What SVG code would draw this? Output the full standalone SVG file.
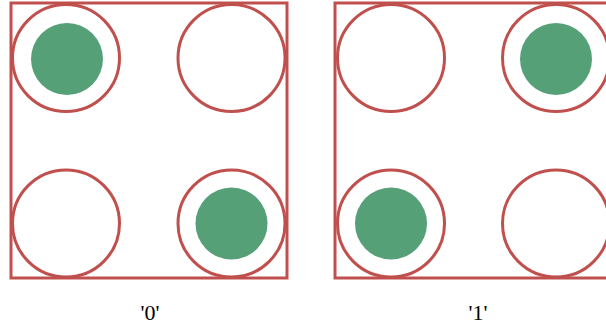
<svg xmlns="http://www.w3.org/2000/svg" width="606" height="331" viewBox="0 0 606 331">
<style>
.frame{fill:none;stroke:#c0504d;stroke-width:3}
.ring{fill:none;stroke:#c0504d;stroke-width:3}
.dot{fill:#55a077}
.lbl{font-family:"Liberation Serif","DejaVu Serif",serif;font-size:22px;fill:#000;text-anchor:middle}
</style>
<rect width="606" height="331" fill="#fff"/>
<g id="panel0">
<rect class="frame" x="11" y="3" width="276" height="275"/>
<circle class="ring" cx="66" cy="58" r="53.5"/>
<circle class="ring" cx="231.5" cy="58" r="53.5"/>
<circle class="ring" cx="66" cy="223.5" r="53.5"/>
<circle class="ring" cx="231.5" cy="223.5" r="53.5"/>
<circle class="dot" cx="67" cy="59" r="36"/>
<circle class="dot" cx="231.5" cy="223.5" r="36"/>
<text class="lbl" x="150" y="320">'0'</text>
</g>
<g id="panel1">
<rect class="frame" x="335" y="3" width="276" height="275"/>
<circle class="ring" cx="391" cy="58" r="53.5"/>
<circle class="ring" cx="556" cy="58" r="53.5"/>
<circle class="ring" cx="391" cy="223.5" r="53.5"/>
<circle class="ring" cx="556" cy="223.5" r="53.5"/>
<circle class="dot" cx="556" cy="59" r="36"/>
<circle class="dot" cx="391" cy="223.5" r="36"/>
<text class="lbl" x="478" y="320">'1'</text>
</g>
<g id="connectors"/>
</svg>
